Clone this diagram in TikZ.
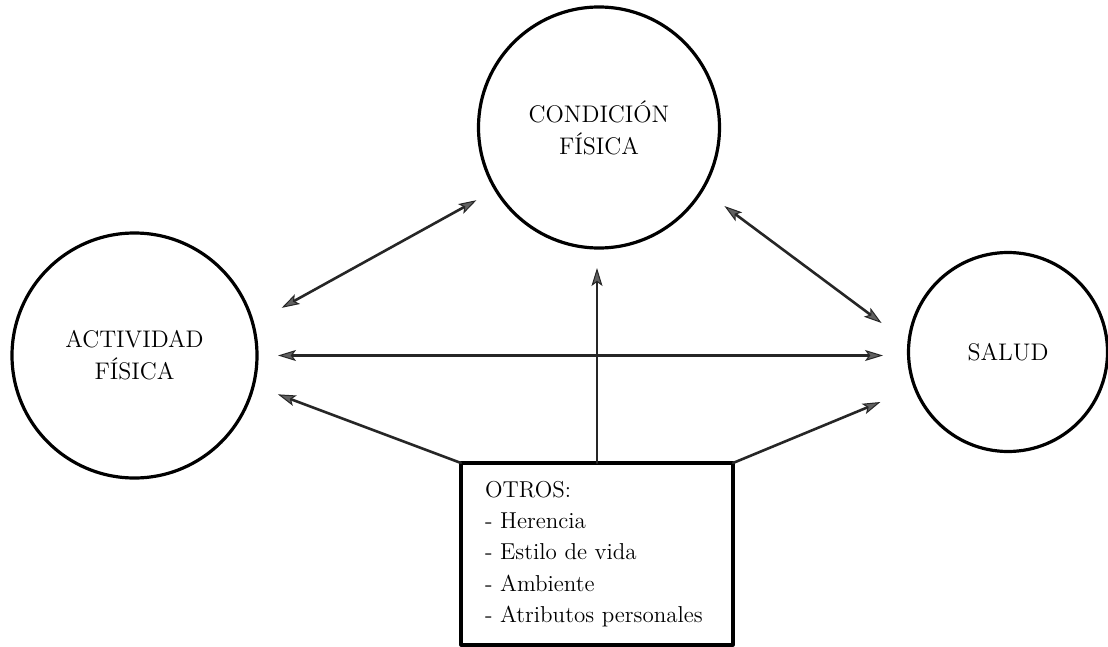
\documentclass[tikz,border=0pt]{standalone}
\usepackage{fontspec}
\usetikzlibrary{arrows.meta}
\begin{document}
\begin{tikzpicture}[x=0.5pt,y=-0.5pt,line join=round,line cap=round,
		>={Stealth[length=9pt,width=5.5pt,inset=2pt,line width=0.5pt,fill=gray!75!black]}]
		\tikzset{circ/.style={circle,draw,line width=1.6pt,outer sep=0pt,inner sep=0pt,
				align=center,font=\fontsize{12}{16}\selectfont},
			link/.style={line width=1.3pt,draw=black!85}}
		\useasboundingbox (0,0) rectangle (1108,647);
		\node[circ,minimum size=120.5pt] (cond) at (599,127.5) {CONDICIÓN\\FÍSICA};
		\node[circ,minimum size=122.5pt] (act) at (134.5,355.5) {ACTIVIDAD\\FÍSICA};
		\node[circ,minimum size=99.5pt] (sal) at (1008,352) {SALUD};
		\node[draw,line width=1.6pt,outer sep=0pt,anchor=north west,inner xsep=12pt,
			text width=112pt,minimum height=91pt,align=left,
			font=\fontsize{11.5}{15.6}\selectfont] (otros) at (461,463)
			{OTROS:\\- Herencia\\- Estilo de vida\\- Ambiente\\- Atributos personales};
		\draw[link,<->,shorten <=16.5pt,shorten >=11pt] (act.15) -- (cond.211.5);
		\draw[link,<->,shorten <=13.8pt,shorten >=17pt] (cond.329.7) -- (sal.175.7);
		\draw[link,<->,shorten <=10.5pt,shorten >=12.75pt] (act.east) -- (act.east -| sal.west);
		\draw[link,->,shorten >=10pt] (otros.north) -- (otros.north |- cond.south);
		\draw[link,->,shorten >=13.1pt] (otros.north west) -- (act.346.2);
		\draw[link,->,shorten >=18.75pt] (otros.north east) -- (sal.201.2);
	\end{tikzpicture}
\end{document}
